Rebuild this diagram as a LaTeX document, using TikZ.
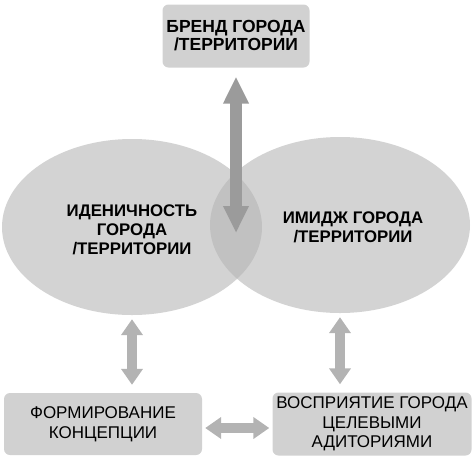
\documentclass[tikz,border=0pt]{standalone}
\usepackage{fontspec}
\setmainfont{Liberation Sans}
\usetikzlibrary{arrows.meta,shapes.geometric}
\definecolor{boxgray}{HTML}{D1D1D1}
\definecolor{ovalgray}{HTML}{B4B4B4}
\definecolor{arrdark}{HTML}{9B9B9B}
\definecolor{arrlight}{HTML}{B3B3B3}

\begin{document}
\begin{tikzpicture}[x=1pt,y=-1pt,
  box/.style={rectangle,rounded corners=6pt,fill=boxgray,align=center,inner sep=2pt,
    font=\fontsize{17}{19.5}\selectfont},
  oval/.style={ellipse,fill=ovalgray,fill opacity=0.59,minimum width=260pt,minimum height=176pt,inner sep=0pt},
  ovaltext/.style={align=center,font=\fontsize{16.8}{19}\selectfont\bfseries},
  bigarr/.style={draw=arrdark,line width=12pt,{Triangle[width=24pt,length=27pt]}-{Triangle[width=24pt,length=27pt]}},
  smallarr/.style={draw=arrlight,line width=10pt,{Triangle[width=21pt,length=16pt]}-{Triangle[width=21pt,length=16pt]}}]
\useasboundingbox (0,0) rectangle (476,461);

\node[oval] (ident) at (132,227) {};
\node[oval] (image) at (340,225) {};
\node[ovaltext] (identtxt) at (132,230) {ИДЕНИЧНОСТЬ\\ГОРОДА\\/ТЕРРИТОРИИ};
\node[ovaltext] (imagetxt) at (353,227) {ИМИДЖ ГОРОДА\\/ТЕРРИТОРИИ};

\node[box,minimum width=147pt,minimum height=63pt,font=\fontsize{17.5}{18}\selectfont\bfseries] (brand) at (236,36) {БРЕНД ГОРОДА\\/ТЕРРИТОРИИ};
\node[box,minimum width=198pt,minimum height=62pt] (concept) at (103,424) {ФОРМИРОВАНИЕ\\КОНЦЕПЦИИ};
\node[box,minimum width=199pt,minimum height=63pt] (percep) at (372,424) {ВОСПРИЯТИЕ ГОРОДА\\ЦЕЛЕВЫМИ\\АДИТОРИЯМИ};

% pomocnaya tochka
\coordinate (cross) at (236,233);

\draw[bigarr,shorten <=9pt] (brand.south) -- (cross);
\draw[smallarr,shorten <=4pt,shorten >=8pt] (ident.south) -- (ident.south |- concept.north);
\draw[smallarr,shorten <=4pt,shorten >=8pt] (image.south) -- (image.south |- percep.north);
\draw[smallarr,shorten <=3pt,shorten >=3pt] ([yshift=-4pt]concept.east) -- ([yshift=-4pt]percep.west);
\end{tikzpicture}
\end{document}
